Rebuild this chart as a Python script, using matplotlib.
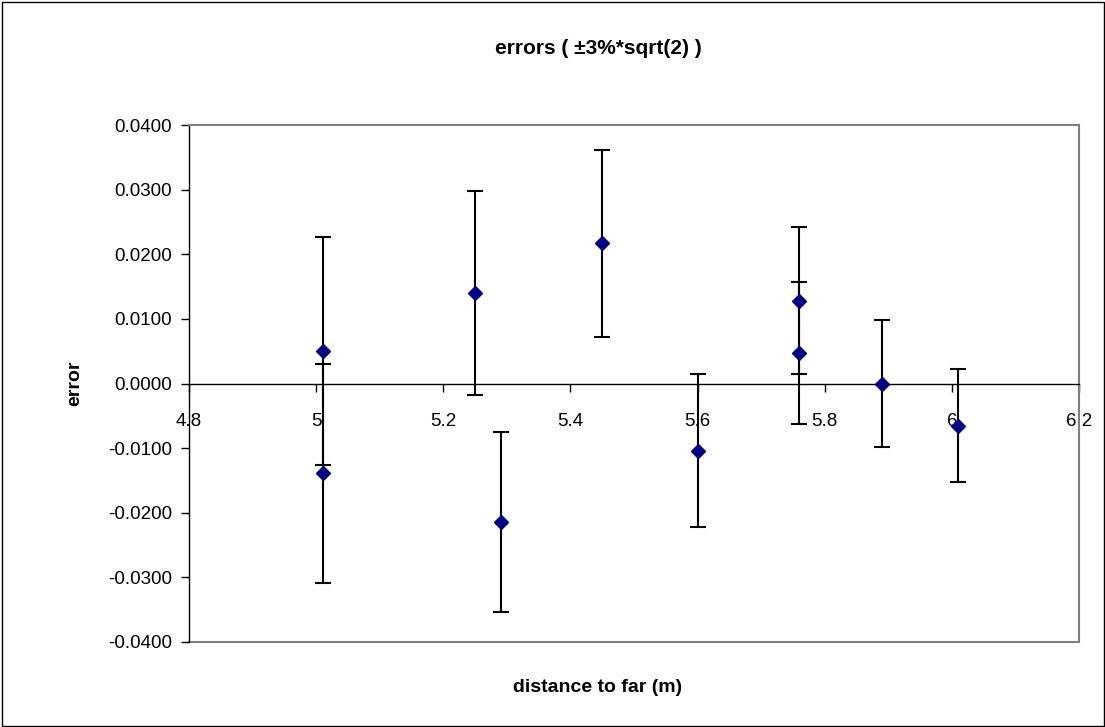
import matplotlib
matplotlib.use('Agg')
import matplotlib.pyplot as plt
from matplotlib.patches import Rectangle

# ---- data ----
distance = [5.01, 5.01, 5.25, 5.29, 5.45, 5.60, 5.76, 5.76, 5.89, 6.01]
error = [0.0050, -0.0139, 0.0140, -0.0214, 0.0217, -0.0104, 0.0128, 0.0047, 0.0000, -0.0065]
err_bar = [0.0176, 0.0169, 0.0158, 0.0139, 0.0145, 0.0118, 0.0114, 0.0110, 0.0099, 0.0087]

x_ticks = [4.8, 5.0, 5.2, 5.4, 5.6, 5.8, 6.0, 6.2]
x_tick_labels = ['4.8', '5', '5.2', '5.4', '5.6', '5.8', '6', '6.2']
y_ticks = [-0.04, -0.03, -0.02, -0.01, 0.0, 0.01, 0.02, 0.03, 0.04]
y_tick_labels = ['-0.0400', '-0.0300', '-0.0200', '-0.0100', '0.0000',
                 '0.0100', '0.0200', '0.0300', '0.0400']

title = 'errors ( ±3%*sqrt(2) )'
x_label = 'distance to far (m)'
y_label = 'error'

plt.rcParams['font.family'] = ['Liberation Sans', 'DejaVu Sans']

W, H = 1105, 727
fig = plt.figure(figsize=(W / 100, H / 100), dpi=100)
fig.patch.set_facecolor('white')

# outer chart border
fig.add_artist(Rectangle((1.5 / W, 1.5 / H), 1 - 3 / W, 1 - 3 / H,
                         transform=fig.transFigure, fill=False,
                         edgecolor='black', linewidth=1.0))

left, right, top, bottom = 189, 1079, 125, 642
ax = fig.add_axes([left / W, 1 - bottom / H, (right - left) / W, (bottom - top) / H])

ax.errorbar(distance, error, yerr=err_bar, fmt='none', ecolor='black',
            elinewidth=1.5, capsize=5.8, capthick=1.5, zorder=3)
ax.plot(distance, error, linestyle='none', marker='D', markersize=7,
        color='#000080', markeredgecolor='#000080', zorder=4)

ax.set_xlim(4.8, 6.2)
ax.set_ylim(-0.04, 0.04)
ax.set_xticks(x_ticks)
ax.set_xticklabels(x_tick_labels)
ax.set_yticks(y_ticks)
ax.set_yticklabels(y_tick_labels)

gray = '#808080'
ax.spines['top'].set_color(gray)
ax.spines['right'].set_color(gray)
ax.spines['top'].set_linewidth(1.5)
ax.spines['right'].set_linewidth(1.5)
ax.spines['left'].set_color('black')
ax.spines['left'].set_linewidth(1.0)
ax.spines['bottom'].set_position(('data', 0))
ax.spines['bottom'].set_color('black')
ax.spines['bottom'].set_linewidth(1.0)
# gray bottom edge of plot area
ax.plot([0, 1], [0, 0], transform=ax.transAxes, color=gray, linewidth=1.5,
        clip_on=False, zorder=1)

ax.tick_params(axis='x', direction='out', length=6, width=1, pad=15,
               labelsize=13.5, colors='black')
ax.tick_params(axis='y', direction='out', length=6, width=1, pad=6,
               labelsize=13.5, colors='black')

fig.text(598 / W, 1 - 48 / H, title, ha='center', va='center',
         fontsize=15, fontweight='bold')
fig.text(598 / W, 1 - 688 / H, x_label, ha='center', va='center',
         fontsize=14, fontweight='bold')
fig.text(75 / W, 1 - 383 / H, y_label, ha='center', va='center',
         rotation=90, fontsize=14, fontweight='bold')

fig.savefig('out.png', dpi=100, facecolor='white')
